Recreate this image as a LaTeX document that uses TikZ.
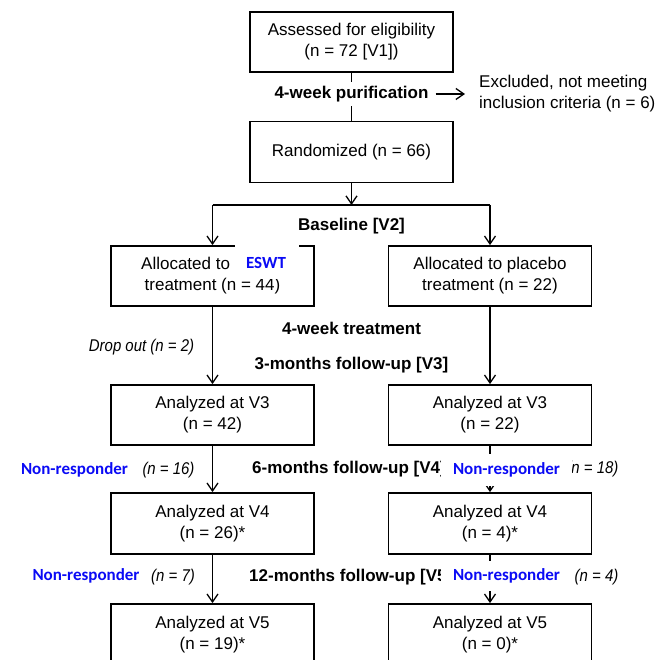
\documentclass[tikz,border=0pt]{standalone}
\usepackage{fontspec}
\setmainfont{Liberation Sans}
\newfontfamily\calfont{Carlito}
\newfontfamily\condfont{Liberation Sans}[FakeStretch=0.88]
\usetikzlibrary{arrows.meta}
\definecolor{nrblue}{RGB}{10,10,245}
\begin{document}
\begin{tikzpicture}[x=1pt,y=-1pt,
  font=\fontsize{17}{21}\selectfont,
  box/.style={draw, line width=1.8pt, minimum width=203pt, minimum height=60pt, align=center, inner sep=2pt},
  conn/.style={line width=1.3pt},
  arr/.style={conn, -{Straight Barb[length=8pt,width=11pt]}},
  lbl/.style={font=\fontsize{17}{21}\selectfont\bfseries, inner sep=4pt},
  ital/.style={font=\fontsize{17}{21}\selectfont\condfont\itshape, inner sep=2pt},
  nr/.style={font=\fontsize{17}{21}\selectfont\calfont\bfseries, text=nrblue},
  patch/.style={fill=white, inner sep=0pt}
]
\useasboundingbox (0,0) rectangle (670,660);
\clip (0,0) rectangle (670,660);

% boxes
\node[box] (top) at (351.5,42) {Assessed for eligibility\\(n = 72 [V1])};
\node[lbl] (purif) at (351.5,94) {4-week purification};
\node[anchor=west, align=left, inner sep=0pt] (excl) at (479,94) {Excluded, not meeting\\inclusion criteria (n = 6)};
\node[box, minimum height=61pt] (rand) at (351.5,152) {Randomized (n = 66)};
\coordinate (j) at (351.5,205);
\coordinate (jL) at (212.5,205);
\coordinate (jR) at (490,205);
\node[lbl] (base) at (351.5,226) {Baseline [V2]};
\node[box] (allocL) at (212.5,276) {Allocated to \phantom{ESWT}\\treatment (n = 44)};
\node[box] (allocR) at (490,276) {Allocated to placebo\\treatment (n = 22)};
\node[lbl] (treat) at (351.5,328) {4-week treatment};
\node[ital] (drop) at (141.5,347) {Drop out (n = 2)};
\node[lbl] (fu3) at (351.5,365) {3-months follow-up [V3]};
\node[box] (v3L) at (212.5,415) {Analyzed at V3\\(n = 42)};
\node[box] (v3R) at (490,415) {Analyzed at V3\\(n = 22)};
\node[lbl, anchor=west] (fu6) at (248,469) {6-months follow-up [V4]};
\node[box, minimum height=61pt] (v4L) at (212.5,523.5) {Analyzed at V4\\(n = 26)*};
\node[box, minimum height=61pt] (v4R) at (490,523.5) {Analyzed at V4\\(n = 4)*};
\node[lbl, anchor=west] (fu12) at (245,577) {12-months follow-up [V5]};
\node[box, minimum height=61pt] (v5L) at (212.5,634.5) {Analyzed at V5\\(n = 19)*};
\node[box, minimum height=61pt] (v5R) at (490,634.5) {Analyzed at V5\\(n = 0)*};

% side labels
\node[nr] (nr1) at (74.5,470) {Non-responder};
\node[ital] (n16) at (168.5,470) {(n = 16)};
\node[nr] (nr2) at (86,576) {Non-responder};
\node[ital] (n7) at (173,577) {(n = 7)};
\node[ital] (n18) at (592.5,469) {(n = 18)};
\node[ital] (n4) at (596.5,577) {(n = 4)};

% connectors
\draw[conn] (top) -- (purif);
\draw[conn] (purif) -- (rand);
\draw[arr, shorten <=3pt, shorten >=14pt] (purif.east) -- (excl.west);
\draw[arr] (rand) -- (j);
\draw[conn] (jL) -- (jR);
\draw[arr] (jL) -- (allocL);
\draw[arr] (jR) -- (allocR);
\draw[arr] (allocL) -- (v3L);
\draw[arr] (allocR) -- (v3R);
\draw[arr] (v3L) -- (v4L);
\draw[arr] (v3R) -- (v4R);
\draw[arr] (v4L) -- (v5L);
\draw[arr] (v4R) -- (v5R);

% overlays
\node[patch, minimum width=64pt, minimum height=34pt] (eswtpatch) at (267,262) {};
\node[nr, inner sep=0pt] (eswt) at (266,263) {ESWT};
\node[patch, nr, minimum width=131pt, minimum height=32pt] (nr3) at (506.5,470) {Non-responder};
\node[patch, nr, minimum width=131pt, minimum height=30pt] (nr4) at (506.5,576) {Non-responder};
\end{tikzpicture}
\end{document}
